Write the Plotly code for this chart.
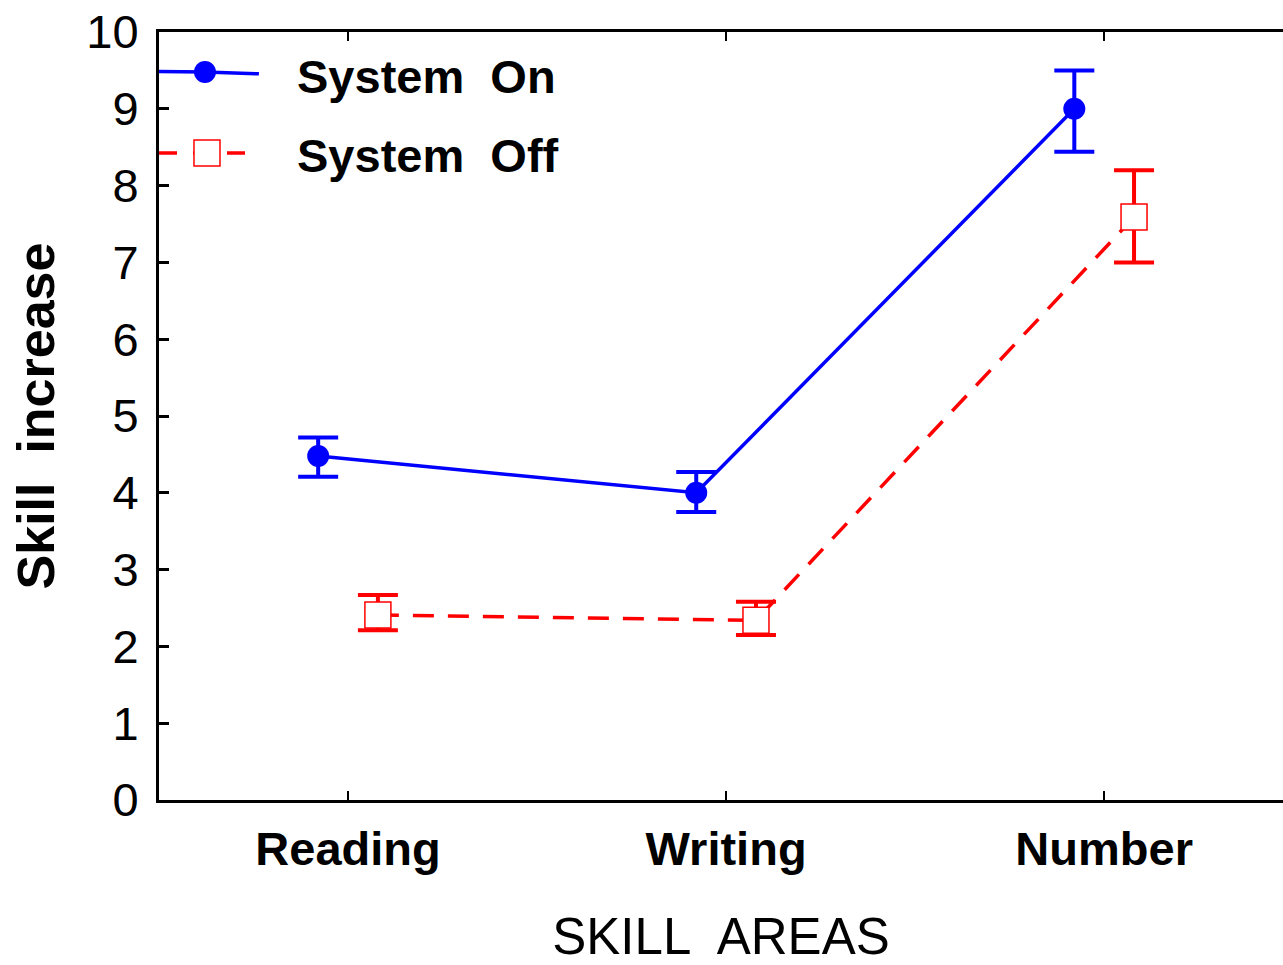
import plotly.graph_objects as go

# Skill areas and group means with error-bar limits
categories = ["Reading", "Writing", "Number"]
on_mean = [4.48, 4.0, 9.0]
on_low = [4.21, 3.75, 8.44]
on_high = [4.72, 4.27, 9.5]
off_mean = [2.41, 2.34, 7.59]
off_low = [2.21, 2.15, 7.0]
off_high = [2.67, 2.58, 8.2]
y_ticks = list(range(0, 11))

BLUE = "#0000ff"
RED = "#ff0000"
FONT = "Liberation Sans, Arial, sans-serif"
DASH = "21px,14px"
LW = 3.5
shift = 0.079  # horizontal offset of each group around its category

xpos = list(range(len(categories)))
x_on = [x - shift for x in xpos]
x_off = [x + shift for x in xpos]

fig = go.Figure()

fig.add_trace(go.Scatter(
    x=x_on, y=on_mean, mode="lines+markers", name="System On",
    line=dict(color=BLUE, width=LW),
    marker=dict(symbol="circle", size=22, color=BLUE),
    error_y=dict(type="data", symmetric=False,
                 array=[h - m for h, m in zip(on_high, on_mean)],
                 arrayminus=[m - l for m, l in zip(on_mean, on_low)],
                 color=BLUE, thickness=4, width=20),
    showlegend=False,
))

fig.add_trace(go.Scatter(
    x=x_off, y=off_mean, mode="lines+markers", name="System Off",
    line=dict(color=RED, width=LW, dash=DASH),
    marker=dict(symbol="square", size=26, color="white",
                line=dict(color=RED, width=1.5)),
    error_y=dict(type="data", symmetric=False,
                 array=[h - m for h, m in zip(off_high, off_mean)],
                 arrayminus=[m - l for m, l in zip(off_mean, off_low)],
                 color=RED, thickness=4, width=20),
    showlegend=False,
))

# Legend keys drawn on an overlay axis spanning the plot area (0..1)
fig.add_trace(go.Scatter(
    x=[0.0, 0.0409, 0.0889], y=[0.9485, 0.9479, 0.9455], xaxis="x2", yaxis="y2",
    mode="lines", line=dict(color=BLUE, width=LW), showlegend=False, hoverinfo="skip",
))
fig.add_trace(go.Scatter(
    x=[0.0409], y=[0.9479], xaxis="x2", yaxis="y2", mode="markers",
    marker=dict(symbol="circle", size=22, color=BLUE), showlegend=False, hoverinfo="skip",
))
fig.add_trace(go.Scatter(
    x=[0.0, 0.0782], y=[0.8424, 0.8424], xaxis="x2", yaxis="y2",
    mode="lines", line=dict(color=RED, width=LW, dash="18px,16px"),
    showlegend=False, hoverinfo="skip",
))
fig.add_trace(go.Scatter(
    x=[0.0427], y=[0.8424], xaxis="x2", yaxis="y2", mode="markers",
    marker=dict(symbol="square", size=26, color="white", line=dict(color=RED, width=1.5)),
    showlegend=False, hoverinfo="skip",
))

for text, ypos in [("System\u00a0 On", 0.9427), ("System\u00a0 Off", 0.8398)]:
    fig.add_annotation(
        x=0.121, y=ypos, xref="paper", yref="paper", xanchor="left", yanchor="middle",
        text=text, showarrow=False,
        font=dict(family=FONT, size=47, color="black", weight="bold"),
    )

fig.update_layout(
    width=1283, height=965,
    margin=dict(l=159, r=0, t=32, b=165),
    paper_bgcolor="white", plot_bgcolor="white",
    font=dict(family=FONT, color="black"),
    xaxis=dict(
        range=[-0.5, 2.473], tickvals=xpos, ticktext=categories,
        showgrid=False, zeroline=False,
        showline=True, linecolor="black", linewidth=3, mirror="ticks",
        ticks="inside", ticklen=9, tickwidth=2, tickcolor="black",
        tickfont=dict(family=FONT, size=47, color="black", weight="bold"),
        ticklabelstandoff=6,
        title=dict(text="SKILL\u00a0 AREAS", font=dict(family=FONT, size=51, color="black"),
                   standoff=48),
    ),
    yaxis=dict(
        range=[0, 10], tickvals=y_ticks,
        showgrid=False, zeroline=False,
        showline=True, linecolor="black", linewidth=3, mirror=False,
        ticks="inside", ticklen=10, tickwidth=3, tickcolor="black",
        tickfont=dict(family=FONT, size=47, color="black"),
        ticklabelstandoff=8,
        title=dict(text="Skill\u00a0 increase",
                   font=dict(family=FONT, size=52, color="black", weight="bold"),
                   standoff=16),
    ),
    xaxis2=dict(overlaying="x", range=[0, 1], visible=False, anchor="y2"),
    yaxis2=dict(overlaying="y", range=[0, 1], visible=False, anchor="x2"),
)

fig.write_html("out.html")
